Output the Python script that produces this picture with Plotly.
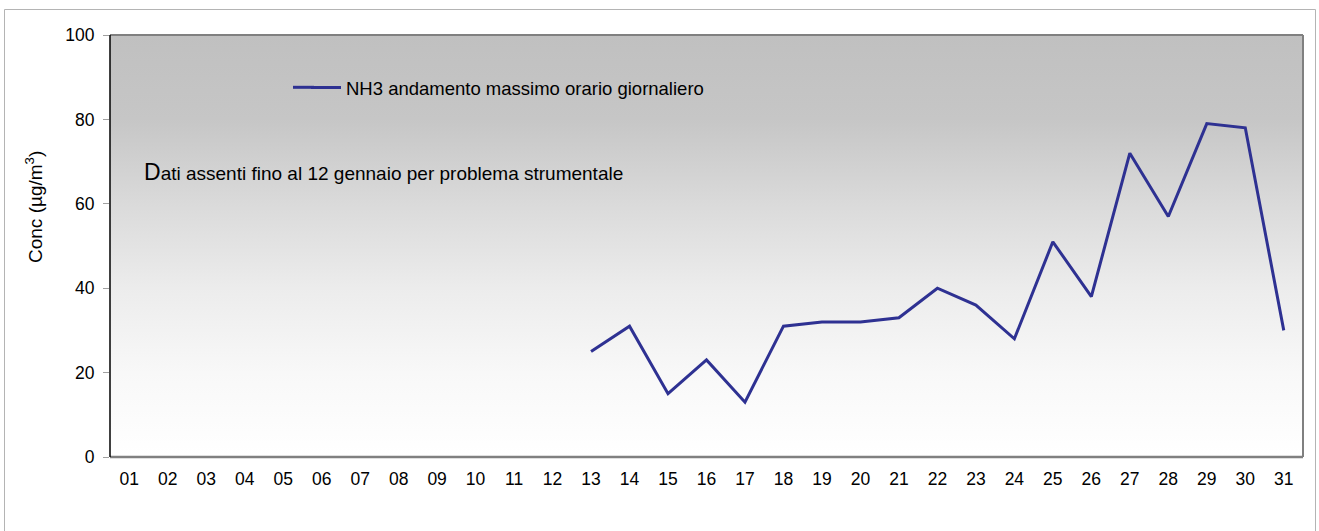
import plotly.graph_objects as go

days = list(range(1, 32))
day_labels = [f"{d:02d}" for d in days]
nh3_max = [None]*12 + [25, 31, 15, 23, 13, 31, 32, 32, 33, 40, 36, 28, 51, 38, 72, 57, 79, 78, 30]
y_ticks = [0, 20, 40, 60, 80, 100]

W, H = 1319, 531
L, R, T, B = 110, 16, 35, 74
pw, ph = W - L - R, H - T - B

def px(xp):
    return (xp - L) / pw

def py(yp):
    return (H - B - yp) / ph

FONT = "Liberation Sans, Arial, sans-serif"
LINE_COLOR = "#2E3192"

fig = go.Figure()

# background gradient (plot area)
fig.add_trace(go.Scatter(
    x=[0.5, 31.5, 31.5, 0.5, 0.5], y=[0, 0, 100, 100, 0],
    mode="lines", line=dict(width=0), fill="toself",
    fillgradient=dict(type="vertical",
                      colorscale=[[0, "#ffffff"], [0.2, "#f8f8f8"], [0.4, "#ececec"],
                                  [0.6, "#dadada"], [0.8, "#c6c6c6"], [1, "#c0c0c0"]]),
    hoverinfo="skip", showlegend=False))

fig.add_trace(go.Scatter(
    x=days, y=nh3_max, mode="lines",
    name="NH3 andamento massimo orario giornaliero",
    line=dict(color=LINE_COLOR, width=3),
    connectgaps=False))

fig.update_layout(
    width=W, height=H,
    margin=dict(l=L, r=R, t=T, b=B),
    paper_bgcolor="white", plot_bgcolor="white",
    font=dict(family=FONT, size=17, color="#000000"),
    showlegend=True,
    legend=dict(x=px(306), y=py(88), xanchor="left", yanchor="middle",
                bgcolor="rgba(0,0,0,0)", font=dict(size=18.5), itemwidth=30),
    xaxis=dict(range=[0.5, 31.5], tickvals=days, ticktext=day_labels,
               showgrid=False, zeroline=False, showline=False,
               ticks="outside", ticklen=6, tickcolor="rgba(0,0,0,0)",
               tickfont=dict(size=17.5)),
    yaxis=dict(range=[0, 100], tickvals=y_ticks, showgrid=True,
               gridcolor="#a0a0a0", gridwidth=1, zeroline=False, showline=False,
               ticks="outside", ticklen=6, tickcolor="#a0a0a0",
               ticklabelstandoff=5,
               tickfont=dict(size=17.5)),
)

# legend line extension to match the longer legend key
fig.add_shape(type="line", xref="paper", yref="paper",
              x0=px(293), x1=px(314), y0=py(87.3), y1=py(87.3),
              line=dict(color=LINE_COLOR, width=3))

# plot borders
fig.add_shape(type="line", xref="paper", yref="paper", x0=0, x1=1, y0=1, y1=1,
              line=dict(color="#808080", width=2))
fig.add_shape(type="line", xref="paper", yref="paper", x0=1, x1=1, y0=0, y1=1,
              line=dict(color="#808080", width=2))
fig.add_shape(type="line", xref="paper", yref="paper", x0=0, x1=1, y0=0, y1=0,
              line=dict(color="#808080", width=2.5))
fig.add_shape(type="line", xref="paper", yref="paper", x0=0, x1=0, y0=0, y1=1,
              line=dict(color="#000000", width=1.5))

# outer chart frame
fig.add_shape(type="rect", xref="paper", yref="paper",
              x0=px(4.5), x1=px(1315.5), y0=py(545), y1=py(9.5),
              line=dict(color="#b4b4b4", width=1), fillcolor="rgba(0,0,0,0)", layer="below")

# y-axis title
fig.add_annotation(x=px(34), y=py(207), xref="paper", yref="paper",
                   xanchor="center", yanchor="middle", showarrow=False, textangle=-90,
                   text="Conc (µg/m<sup>3</sup>)",
                   font=dict(size=19, family=FONT, color="#000000"))

fig.add_annotation(x=px(142), y=py(172), xref="paper", yref="paper",
                   xanchor="left", yanchor="middle", showarrow=False,
                   text="<span style='font-size:23px'>D</span>ati assenti fino al 12 gennaio per problema strumentale",
                   font=dict(size=19, family=FONT, color="#000000"))

fig.write_html("out.html", config={"displayModeBar": False},
               post_script="document.body.style.margin='0';")
